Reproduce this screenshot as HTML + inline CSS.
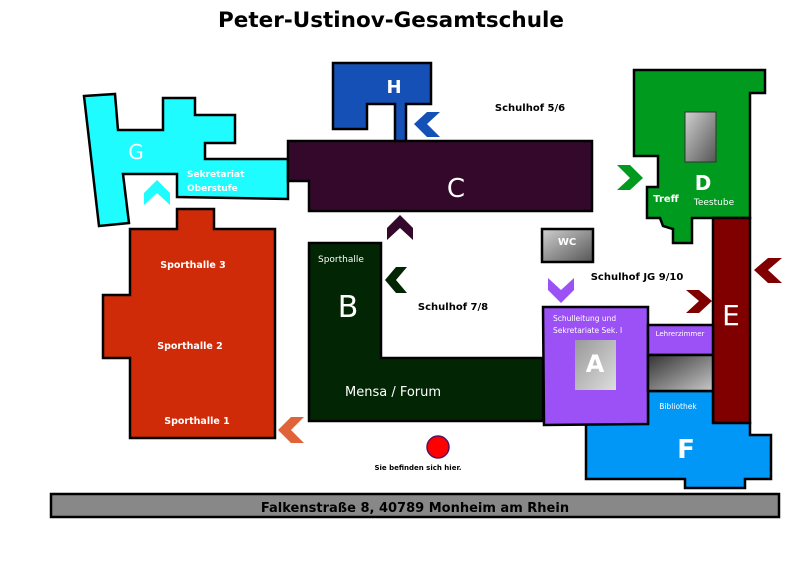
<!DOCTYPE html>
<html><head><meta charset="utf-8"><style>
html,body{margin:0;padding:0;background:#fff;}
svg{display:block;}
text{font-family:"DejaVu Sans","Liberation Sans",sans-serif;}
</style></head><body>
<svg width="800" height="566" viewBox="0 0 800 566" xmlns="http://www.w3.org/2000/svg">
<defs>
<linearGradient id="gr1" x1="0" y1="0" x2="1" y2="1"><stop offset="0" stop-color="#d0d0d0"/><stop offset="1" stop-color="#555"/></linearGradient>
<linearGradient id="gr2" x1="0" y1="0" x2="1" y2="1"><stop offset="0" stop-color="#333"/><stop offset="1" stop-color="#c8c8c8"/></linearGradient>
<linearGradient id="gr3" x1="0" y1="0" x2="1" y2="1"><stop offset="0" stop-color="#999"/><stop offset="1" stop-color="#ddd"/></linearGradient>
</defs>
<text x="391" y="27" text-anchor="middle" font-size="21.5" font-weight="bold" fill="#000">Peter-Ustinov-Gesamtschule</text>

<g stroke="#000" stroke-width="2.5" stroke-linejoin="miter">
<polygon fill="#1ffcff" points="84,96 115,94 118,130 163,130 163,98 195,98 195,115 235,115 235,143 205,143 205,159 288,159 288,199 177,197 177,174 123,174 129,223 99,226"/>
<polygon fill="#1550b6" points="333,63 431,63 431,104 406,104 406,142 395,142 395,104 367,104 367,129 333,129"/>
<polygon fill="#33082a" points="288,141 592,141 592,211 309,211 309,181 288,181"/>
<polygon fill="#009a1e" points="634,70 765,70 765,93 750,93 750,218 692,218 692,243 673,243 673,229 663,226 660,218 647,218 647,187 658,187 658,156 634,156"/>
<polygon fill="#800000" points="713,218 750,218 750,423 713,423"/>
<polygon fill="#d02b08" points="130,229 177,229 177,209 214,209 214,229 275,229 275,438 130,438 130,358 103,358 103,295 130,295"/>
<polygon fill="#022604" points="309,243 381,243 381,358 543,358 543,421 309,421"/>
<polygon fill="#0097f7" points="586,423 648,423 648,391 713,391 713,423 750,423 750,435 771,435 771,479 745,479 745,488 685,488 685,479 586,479"/>
<polygon fill="#9b51f5" points="543,307 648,307 648,424 544,425"/>
<rect x="648" y="325" width="65" height="30" fill="#9b51f5"/>
<rect x="648" y="355" width="65" height="36" fill="url(#gr2)"/>
<rect x="542" y="229" width="51" height="33" fill="url(#gr1)"/>
<rect x="51" y="494" width="728" height="23" fill="#888"/>
</g>
<rect x="685" y="112" width="31" height="50" fill="url(#gr1)" stroke="#333" stroke-width="1"/>
<rect x="575" y="340" width="41" height="50" fill="url(#gr3)"/>

<polygon fill="#1ffcff" points="144,193 157,180 170,193 170,205 157,193 144,205"/>
<polygon fill="#1550b6" points="427,112 440,112 427,124 440,137 427,137 414,124"/>
<polygon fill="#33082a" points="387,228 400,215 413,228 413,240 400,228 387,240"/>
<polygon fill="#022604" points="396,267 407,267 396,280 407,293 396,293 385,280"/>
<polygon fill="#009a1e" points="617,165 630,165 643,178 630,190 617,190 630,178"/>
<polygon fill="#800000" points="686,290 699,290 712,301 699,313 686,313 699,301"/>
<polygon fill="#800000" points="768,258 782,258 768,270 782,283 768,283 754,270"/>
<polygon fill="#9b51f5" points="548,278 561,290 574,278 574,290 561,303 548,290"/>
<polygon fill="#e0633a" points="291,417 304,417 291,430 304,443 291,443 278,430"/>

<circle cx="438" cy="447" r="11" fill="#f00" stroke="#5a1060" stroke-width="1.5"/>

<g fill="#fff">
<text x="136" y="159" font-size="20" text-anchor="middle">G</text>
<text x="187" y="177" font-size="9" font-weight="bold">Sekretariat</text>
<text x="187" y="191" font-size="9" font-weight="bold">Oberstufe</text>
<text x="394" y="93" font-size="18" font-weight="bold" text-anchor="middle">H</text>
<text x="456" y="197" font-size="26" text-anchor="middle">C</text>
<text x="703" y="190" font-size="20" font-weight="bold" text-anchor="middle">D</text>
<text x="666" y="202" font-size="10" font-weight="bold" text-anchor="middle">Treff</text>
<text x="714" y="205" font-size="9" text-anchor="middle">Teestube</text>
<text x="567" y="245" font-size="10" font-weight="bold" text-anchor="middle">WC</text>
<text x="731" y="325" font-size="28" text-anchor="middle">E</text>
<text x="318" y="262" font-size="9">Sporthalle</text>
<text x="348" y="317" font-size="30" text-anchor="middle">B</text>
<text x="345" y="396" font-size="13">Mensa / Forum</text>
<text x="193" y="268" font-size="9.5" font-weight="bold" text-anchor="middle">Sporthalle 3</text>
<text x="190" y="349" font-size="9.5" font-weight="bold" text-anchor="middle">Sporthalle 2</text>
<text x="197" y="424" font-size="9.5" font-weight="bold" text-anchor="middle">Sporthalle 1</text>
<text x="553" y="321" font-size="7.5">Schulleitung und</text>
<text x="553" y="333" font-size="7.5">Sekretariate Sek. I</text>
<text x="595" y="372" font-size="24" font-weight="bold" text-anchor="middle">A</text>
<text x="680" y="336" font-size="7" text-anchor="middle">Lehrerzimmer</text>
<text x="678" y="409" font-size="7.5" text-anchor="middle">Bibliothek</text>
<text x="686" y="458" font-size="26" font-weight="bold" text-anchor="middle">F</text>
</g>
<g fill="#000" font-weight="bold">
<text x="530" y="111" font-size="10" text-anchor="middle">Schulhof 5/6</text>
<text x="637" y="280" font-size="10" text-anchor="middle">Schulhof JG 9/10</text>
<text x="453" y="310" font-size="10" text-anchor="middle">Schulhof 7/8</text>
<text x="418" y="470" font-size="7" text-anchor="middle">Sie befinden sich hier.</text>
<text x="415" y="512" font-size="13" text-anchor="middle" font-family="Liberation Sans, sans-serif">Falkenstraße 8, 40789 Monheim am Rhein</text>
</g>
</svg>
</body></html>
